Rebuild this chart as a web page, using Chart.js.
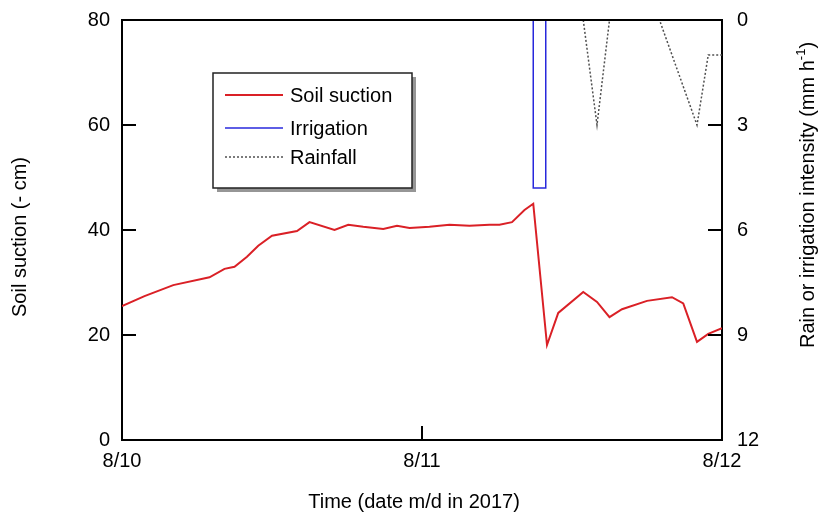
<!DOCTYPE html>
<html>
<head>
<meta charset="utf-8">
<script src="https://cdn.jsdelivr.net/npm/chart.js@4/dist/chart.umd.min.js"></script>
<style>
  body { margin: 0; background: #fff; }
  canvas { display: block; }
</style>
</head>
<body>
<canvas id="myChart" width="823" height="521"></canvas>
<script>
// hours since 8/10 00:00
const suctionHours = [0, 1.8, 4.1, 7.0, 8.2, 9.0, 10.0, 10.9, 12.0, 14.0, 15.0, 17.0, 18.1, 19.3, 20.9, 22.0, 23.0, 24.6, 26.2, 27.8, 29.4, 30.2, 31.2, 32.2, 32.9, 34.0, 34.9, 36.9, 38.0, 39.0, 40.0, 42.0, 44.0, 44.9, 46.0, 46.9, 48.0];
const suction = [25.5, 27.4, 29.5, 31.0, 32.6, 33.0, 34.9, 37.0, 38.9, 39.8, 41.5, 40.0, 41.0, 40.6, 40.2, 40.8, 40.4, 40.6, 41.0, 40.8, 41.0, 41.0, 41.5, 43.8, 45.0, 18.1, 24.2, 28.2, 26.3, 23.4, 24.9, 26.5, 27.2, 26.0, 18.7, 20.2, 21.3];

const irrigationHours = [32.9, 32.9, 33.9, 33.9];
const irrigation = [0, 4.8, 4.8, 0];

const rainHours = [36.9, 38.0, 39.0, 43.0, 46.0, 46.9, 48.0];
const rain = [0, 3.0, 0, 0, 3.0, 1.0, 1.0];

const xTicks = [0, 24, 48];
const xTickLabels = ['8/10', '8/11', '8/12'];
const suctionTicks = [0, 20, 40, 60, 80];
const rateTicks = [0, 3, 6, 9, 12];

const FONT = '"Liberation Sans", Arial, sans-serif';
const red = 'rgb(218, 32, 38)';
const blue = 'rgb(40, 40, 220)';
const grey = 'rgb(80, 80, 80)';

function pts(xs, ys) {
    return xs.map((x, i) => ({ x: x, y: ys[i] }));
}

const extras = {
    id: 'extras',
    afterDraw(chart) {
        const c = chart.ctx;
        const a = chart.chartArea;
        const sx = chart.scales.x, sy = chart.scales.y, sy2 = chart.scales.y2;
        c.save();
        c.strokeStyle = '#000';
        c.lineWidth = 2;
        // top frame line
        c.beginPath();
        c.moveTo(a.left, a.top);
        c.lineTo(a.right, a.top);
        c.stroke();
        // inward ticks
        const tl = 14;
        c.beginPath();
        suctionTicks.forEach(v => {
            const y = sy.getPixelForValue(v);
            c.moveTo(a.left, y); c.lineTo(a.left + tl, y);
        });
        rateTicks.forEach(v => {
            const y = sy2.getPixelForValue(v);
            c.moveTo(a.right, y); c.lineTo(a.right - tl, y);
        });
        xTicks.forEach(v => {
            const x = sx.getPixelForValue(v);
            c.moveTo(x, a.bottom); c.lineTo(x, a.bottom - tl);
        });
        c.stroke();

        // axis titles
        c.fillStyle = '#000';
        c.font = '20px ' + FONT;
        c.textAlign = 'center';
        c.textBaseline = 'middle';
        c.fillText('Time (date m/d in 2017)', 414, 502);

        c.save();
        c.translate(20, 237);
        c.rotate(-Math.PI / 2);
        c.fillText('Soil suction (- cm)', 0, 0);
        c.restore();

        c.save();
        c.translate(808, 195);
        c.rotate(-Math.PI / 2);
        const p1 = 'Rain or irrigation intensity (mm h';
        const sup = '-1';
        const p3 = ')';
        c.font = '20px ' + FONT;
        const w1 = c.measureText(p1).width;
        const w3 = c.measureText(p3).width;
        c.font = '13px ' + FONT;
        const w2 = c.measureText(sup).width;
        const total = w1 + w2 + w3;
        c.textAlign = 'left';
        let x0 = -total / 2;
        c.font = '20px ' + FONT;
        c.fillText(p1, x0, 0);
        c.font = '13px ' + FONT;
        c.fillText(sup, x0 + w1, -7);
        c.font = '20px ' + FONT;
        c.fillText(p3, x0 + w1 + w2, 0);
        c.restore();

        // legend box
        const bx = 213, by = 73, bw = 199, bh = 115;
        c.fillStyle = 'rgb(150,150,150)';
        c.fillRect(bx + 4, by + 4, bw, bh);
        c.fillStyle = '#fff';
        c.fillRect(bx, by, bw, bh);
        c.lineWidth = 1.5;
        c.strokeStyle = '#222';
        c.strokeRect(bx, by, bw, bh);

        const items = chart.data.datasets;
        const rows = [95, 128, 157];
        items.forEach((ds, i) => {
            const y = rows[i];
            c.beginPath();
            c.strokeStyle = ds.borderColor;
            c.lineWidth = ds.borderWidth;
            c.setLineDash(ds.borderDash || []);
            c.moveTo(225, y);
            c.lineTo(283, y);
            c.stroke();
            c.setLineDash([]);
            c.fillStyle = '#000';
            c.font = '20px ' + FONT;
            c.textAlign = 'left';
            c.textBaseline = 'middle';
            c.fillText(ds.label, 290, y + 1);
        });
        c.restore();
    }
};

let ctx = document.getElementById('myChart');

new Chart(ctx, {
    type: 'line',
    data: {
        datasets: [
            {
                label: 'Soil suction',
                data: pts(suctionHours, suction),
                borderColor: red,
                borderWidth: 2,
                pointRadius: 0,
                yAxisID: 'y',
                tension: 0
            },
            {
                label: 'Irrigation',
                data: pts(irrigationHours, irrigation),
                borderColor: blue,
                borderWidth: 1.5,
                pointRadius: 0,
                yAxisID: 'y2',
                tension: 0
            },
            {
                label: 'Rainfall',
                data: pts(rainHours, rain),
                borderColor: grey,
                borderWidth: 1.5,
                borderDash: [2, 2],
                pointRadius: 0,
                yAxisID: 'y2',
                tension: 0
            }
        ]
    },
    options: {
        responsive: false,
        animation: false,
        devicePixelRatio: 1,
        layout: { padding: { top: 20, left: 0, right: 0, bottom: 0 } },
        plugins: { legend: { display: false }, tooltip: { enabled: false } },
        scales: {
            x: {
                type: 'linear',
                min: 0,
                max: 48,
                afterBuildTicks: s => { s.ticks = xTicks.map(v => ({ value: v })); },
                afterFit: s => { s.height = 81; s.paddingLeft = 0; s.paddingRight = 0; },
                ticks: {
                    callback: v => xTickLabels[xTicks.indexOf(v)],
                    color: '#000',
                    font: { family: FONT, size: 20 },
                    padding: 9,
                    maxRotation: 0
                },
                grid: { display: false, drawTicks: false },
                border: { display: true, color: '#000', width: 2 }
            },
            y: {
                position: 'left',
                min: 0,
                max: 80,
                afterBuildTicks: s => { s.ticks = suctionTicks.map(v => ({ value: v })); },
                afterFit: s => { s.width = 122; s.paddingTop = 0; s.paddingBottom = 0; },
                ticks: {
                    color: '#000',
                    font: { family: FONT, size: 20 },
                    padding: 12
                },
                grid: { display: false, drawTicks: false },
                border: { display: true, color: '#000', width: 2 }
            },
            y2: {
                position: 'right',
                min: 0,
                max: 12,
                reverse: true,
                afterBuildTicks: s => { s.ticks = rateTicks.map(v => ({ value: v })); },
                afterFit: s => { s.width = 101; s.paddingTop = 0; s.paddingBottom = 0; },
                ticks: {
                    color: '#000',
                    font: { family: FONT, size: 20 },
                    padding: 15
                },
                grid: { display: false, drawTicks: false },
                border: { display: true, color: '#000', width: 2 }
            }
        }
    },
    plugins: [extras]
});
</script>
</body>
</html>
